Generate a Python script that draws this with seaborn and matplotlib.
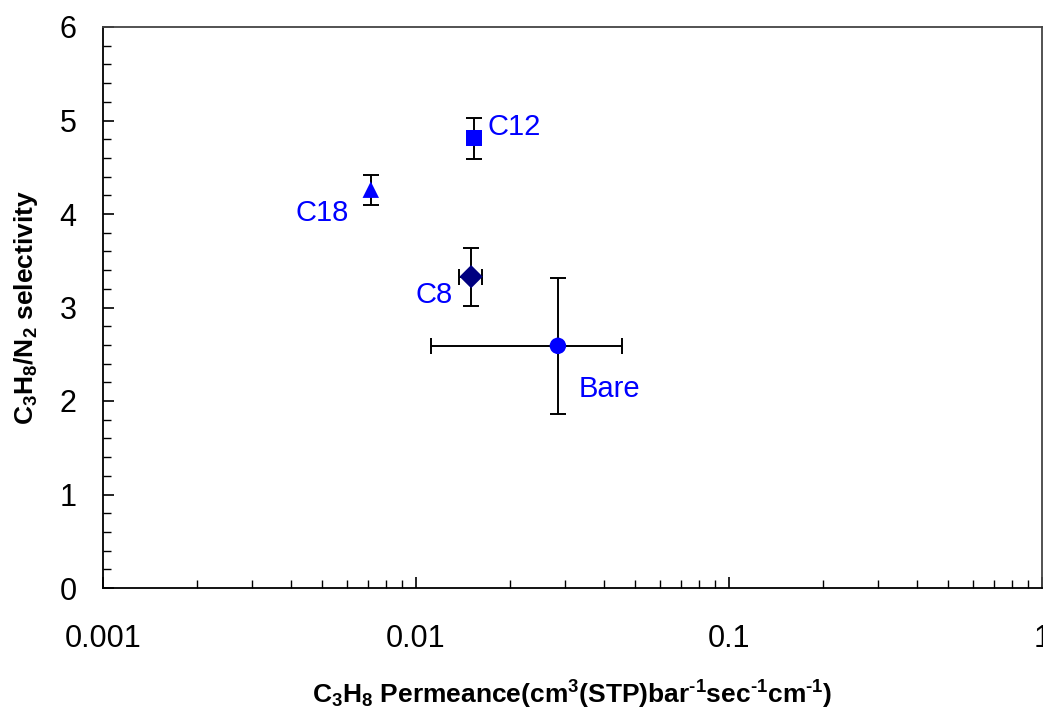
import numpy as np
import pandas as pd
import matplotlib
matplotlib.use("Agg")
import matplotlib.pyplot as plt
import seaborn as sns
from matplotlib.ticker import LogLocator, MultipleLocator, FixedLocator, FixedFormatter, NullFormatter

# Data
samples = ["C12", "C18", "C8", "Bare"]
permeance = [0.0153, 0.00717, 0.0150, 0.0284]
permeance_err = [0.0, 0.0, 0.0013, 0.0172]
selectivity = [4.81, 4.26, 3.33, 2.59]
selectivity_err = [0.22, 0.16, 0.31, 0.73]
marker_colors = ["#0000FF", "#0000FF", "#000080", "#0000FF"]
markers = ["s", "^", "D", "o"]
x_ticks = [0.001, 0.01, 0.1, 1]
x_tick_labels = ["0.001", "0.01", "0.1", "1"]
y_ticks = [0, 1, 2, 3, 4, 5, 6]

df = pd.DataFrame({"sample": samples, "perm": permeance, "sel": selectivity})

sns.set_style("white")
plt.rcParams["font.family"] = ["Liberation Sans", "DejaVu Sans"]
plt.rcParams["mathtext.fontset"] = "custom"
plt.rcParams["mathtext.rm"] = "Liberation Sans:bold"
plt.rcParams["mathtext.bf"] = "Liberation Sans:bold"
plt.rcParams["mathtext.it"] = "Liberation Sans:italic"
plt.rcParams["axes.labelcolor"] = "black"

fig = plt.figure(figsize=(10.43, 7.15), dpi=100)
ax = fig.add_axes([103/1043, 1-588/715, (1042-103)/1043, (588-27)/715])

# error bars
for i in range(len(samples)):
    xerr = permeance_err[i] if permeance_err[i] > 0 else None
    ax.errorbar(permeance[i], selectivity[i], yerr=selectivity_err[i], xerr=xerr,
                fmt="none", ecolor="black", elinewidth=1.4, capsize=6, capthick=1.4, zorder=2)

sns.scatterplot(data=df, x="perm", y="sel", hue="sample", style="sample",
                palette=dict(zip(samples, marker_colors)),
                markers=dict(zip(samples, markers)),
                s=140, edgecolor="none", legend=False, ax=ax, zorder=3)

# labels
label_offsets = {"C12": (10, 8), "C18": (-54, -17), "C8": (-40, -13), "Bare": (15, -31)}
for s, x, y in zip(samples, permeance, selectivity):
    dx, dy = label_offsets[s]
    ax.annotate(s, (x, y), xytext=(dx, dy), textcoords="offset points",
                color="#0000FF", fontsize=21, ha="left", va="center")

ax.set_xscale("log")
ax.set_xlim(0.001, 1)
ax.set_ylim(0, 6)
ax.xaxis.set_major_locator(FixedLocator(x_ticks))
ax.xaxis.set_major_formatter(FixedFormatter(x_tick_labels))
ax.xaxis.set_minor_locator(LogLocator(base=10, subs=np.arange(2, 10)))
ax.xaxis.set_minor_formatter(NullFormatter())
ax.yaxis.set_major_locator(FixedLocator(y_ticks))
ax.yaxis.set_minor_locator(MultipleLocator(0.2))

ax.tick_params(axis="both", which="both", bottom=True, left=True, top=False, right=False)
ax.tick_params(axis="both", which="major", direction="in", length=8, width=1.2,
               labelsize=22, color="black", labelcolor="black")
ax.tick_params(axis="both", which="minor", direction="in", length=5.5, width=1.0, color="black")
ax.tick_params(axis="x", which="major", pad=26)
ax.tick_params(axis="y", which="major", pad=19)

for sp in ax.spines.values():
    sp.set_visible(True)
    sp.set_color("black")
    sp.set_linewidth(1.3)
for sp in ["top", "right"]:
    ax.spines[sp].set_color("#444444")

ax.set_xlabel(r"$\mathbf{C_3H_8}$ Permeance(cm$^{\mathbf{3}}$(STP)bar$^{\text{-}\mathbf{1}}$sec$^{\text{-}\mathbf{1}}$cm$^{\text{-}\mathbf{1}}$)",
              fontsize=19, fontweight="bold", labelpad=18)
ax.set_ylabel(r"$\mathbf{C_3H_8/N_2}$ selectivity", fontsize=19, fontweight="bold", labelpad=14)

fig.savefig("out.png", dpi=100)
